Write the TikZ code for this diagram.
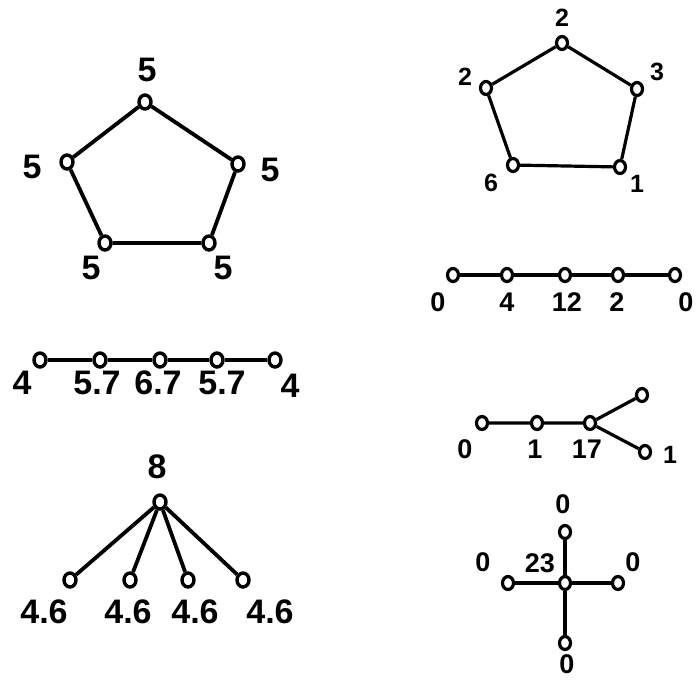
\documentclass[tikz,border=0pt]{standalone}
\usepackage{fontspec}
\setmainfont{Liberation Sans}
\usetikzlibrary{shapes.geometric}
\begin{document}
\begin{tikzpicture}[x=1pt,y=-1pt,
  v/.style={draw,ellipse,fill=white,line width=3.4pt,inner sep=0pt,minimum width=12pt,minimum height=14pt},
  vs/.style={v,line width=3.2pt,minimum width=11pt,minimum height=13pt},
  e/.style={line width=3.8pt},
  es/.style={line width=3.2pt},
  lbl/.style={inner sep=0pt,font=\fontsize{34}{34}\selectfont\bfseries},
  lbs/.style={inner sep=0pt,font=\fontsize{27}{27}\selectfont\bfseries},
  lbt/.style={inner sep=0pt,font=\fontsize{25}{25}\selectfont\bfseries}]
\useasboundingbox (0,0) rectangle (697,681);
% left pentagon
\node[v] (p1) at (145,102) {};
\node[v] (p2) at (67,162) {};
\node[v] (p3) at (238,164) {};
\node[v] (p4) at (105,243) {};
\node[v] (p5) at (209,243) {};
\draw[e] (p1) -- (p2) -- (p4) -- (p5) -- (p3) -- (p1);
\node[lbl] (lp1) at (147,70) {5};
\node[lbl] (lp2) at (32,167) {5};
\node[lbl] (lp3) at (270,170) {5};
\node[lbl] (lp4) at (91,268) {5};
\node[lbl] (lp5) at (223,268) {5};
% right pentagon
\node[vs] (q1) at (562,43) {};
\node[vs] (q2) at (486,88) {};
\node[vs] (q3) at (637,89) {};
\node[vs] (q4) at (513,165) {};
\node[vs] (q5) at (620,167) {};
\draw[es] (q1) -- (q2) -- (q4) -- (q5) -- (q3) -- (q1);
\node[lbt] (lq1) at (562,18) {2};
\node[lbt] (lq2) at (465,77) {2};
\node[lbt] (lq3) at (657,72) {3};
\node[lbt] (lq4) at (491,183) {6};
\node[lbt] (lq5) at (637,184) {1};
% left line
\node[v] (a1) at (40,360) {};
\node[v] (a2) at (100,360) {};
\node[v] (a3) at (160,360) {};
\node[v] (a4) at (217,360) {};
\node[v] (a5) at (275,360) {};
\draw[e] (a1) -- (a2) -- (a3) -- (a4) -- (a5);
\node[lbl] (la1) at (22,383) {4};
\node[lbl] (la2) at (97,383) {5.7};
\node[lbl] (la3) at (158,383) {6.7};
\node[lbl] (la4) at (222,383) {5.7};
\node[lbl] (la5) at (290,386) {4};
% right line
\node[vs] (b1) at (453,275) {};
\node[vs] (b2) at (507,275) {};
\node[vs] (b3) at (565,275) {};
\node[vs] (b4) at (618,275) {};
\node[vs] (b5) at (675,275) {};
\draw[es] (b1) -- (b2) -- (b3) -- (b4) -- (b5);
\node[lbs] (lb1) at (438,302) {0};
\node[lbs] (lb2) at (507,302) {4};
\node[lbs] (lb3) at (567,302) {12};
\node[lbs] (lb4) at (617,302) {2};
\node[lbs] (lb5) at (686,302) {0};
% right branched
\node[vs] (t1) at (482,423) {};
\node[vs] (t2) at (537,423) {};
\node[vs] (t3) at (590,423) {};
\node[vs] (t4) at (642,395) {};
\node[vs] (t5) at (645,452) {};
\draw[es] (t1) -- (t2) -- (t3) -- (t4);
\draw[es] (t3) -- (t5);
\node[lbs] (lt1) at (465,449) {0};
\node[lbs] (lt2) at (535,449) {1};
\node[lbs] (lt3) at (587,449) {17};
\node[lbt] (lt5) at (670,455) {1};
% left star
\node[v] (s0) at (160,502) {};
\node[v] (s1) at (70,580) {};
\node[v] (s2) at (130,580) {};
\node[v] (s3) at (188,580) {};
\node[v] (s4) at (243,580) {};
\draw[e] (s0) -- (s1);
\draw[e] (s0) -- (s2);
\draw[e] (s0) -- (s3);
\draw[e] (s0) -- (s4);
\node[lbl] (ls0) at (157,467) {8};
\node[lbl] (ls1) at (44,612) {4.6};
\node[lbl] (ls2) at (128,612) {4.6};
\node[lbl] (ls3) at (195,612) {4.6};
\node[lbl] (ls4) at (270,612) {4.6};
% cross
\node[vs] (c0) at (565,583) {};
\node[vs] (c1) at (565,532) {};
\node[vs] (c2) at (565,643) {};
\node[vs] (c3) at (508,583) {};
\node[vs] (c4) at (618,583) {};
\draw[es] (c0) -- (c1);
\draw[es] (c0) -- (c2);
\draw[es] (c0) -- (c3);
\draw[es] (c0) -- (c4);
\node[lbs] (lc1) at (563,504) {0};
\node[lbs] (lc2) at (567,664) {0};
\node[lbs] (lc3) at (483,562) {0};
\node[lbs] (lc4) at (633,562) {0};
\node[lbs] (lc0) at (540,563) {23};
\end{tikzpicture}
\end{document}
